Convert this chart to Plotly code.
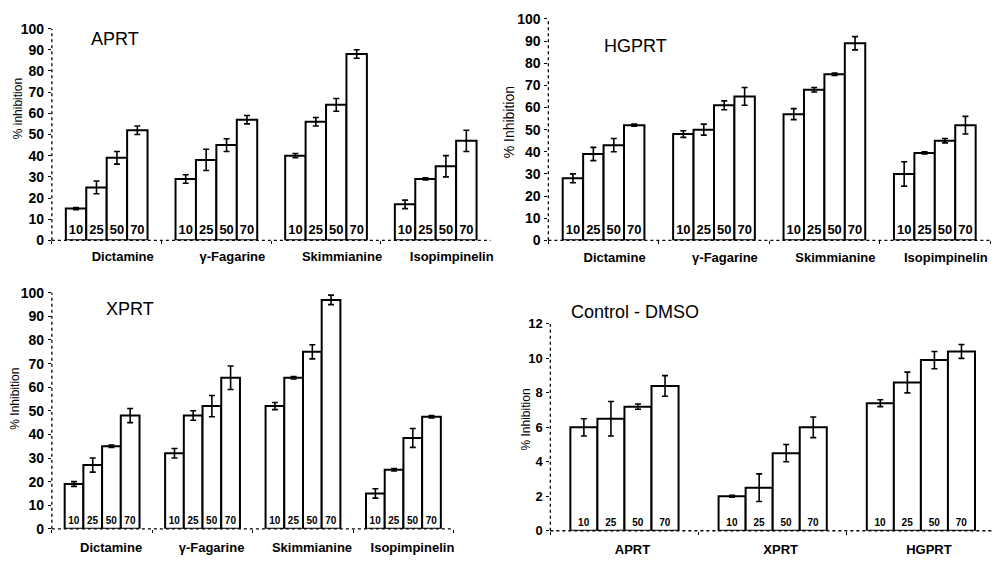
import plotly.graph_objects as go

# ---------------- data ----------------
compounds = ["Dictamine", "γ-Fagarine", "Skimmianine", "Isopimpinelin"]
enzymes = ["APRT", "XPRT", "HGPRT"]
conc_labels = ["10", "25", "50", "70"]

aprt_vals = [[15, 29, 40, 17], [25, 38, 56, 29], [39, 45, 64, 35], [52, 57, 88, 47]]
aprt_errs = [[0.5, 2, 1, 2], [3, 5, 2, 0.5], [3, 3, 3, 5], [2, 2, 2, 5]]

hgprt_vals = [[28, 48, 57, 30], [39, 50, 68, 39.5], [43, 61, 75, 45], [52, 65, 89, 52]]
hgprt_errs = [[2, 1.5, 2.5, 5.5], [3, 2.5, 1, 0.5], [3, 2, 0.5, 1], [0.5, 4, 3, 4]]

xprt_vals = [[19, 32, 52, 15], [27, 48, 64, 25], [35, 52, 75, 38.5], [48, 64, 97, 47.5]]
xprt_errs = [[1, 2, 1.5, 2], [3, 2, 0.5, 0.5], [0.5, 4.5, 3, 4], [3, 5, 2, 0.5]]

ctrl_vals = [[6.0, 2.0, 7.4], [6.5, 2.5, 8.6], [7.2, 4.5, 9.9], [8.4, 6.0, 10.4]]
ctrl_errs = [[0.5, 0.05, 0.2], [1.0, 0.8, 0.6], [0.15, 0.5, 0.5], [0.6, 0.6, 0.4]]

panel_titles = ["APRT", "HGPRT", "XPRT", "Control - DMSO"]
ytitles = ["% inhibition", "% Inhibition", "% Inhibition", "% Inhibition"]

# ---------------- layout geometry ----------------
# the page body has an 8px margin, so the figure is offset by 8px
OFF = 8
W, H = 992, 556
FONT = "Arial, Liberation Sans, sans-serif"

panels = [
    dict(cats=compounds, vals=aprt_vals, errs=aprt_errs, px=(52, 492), py=(21, 239),
         yr=(0, 100), dt=10, gw=0.745, tfs=13, yfs=14, xfs=13, shift=16, stand=7,
         title_xy=(115, 32), ytl_xy=(18, 103), ytl_fs=12),
    dict(cats=compounds, vals=hgprt_vals, errs=hgprt_errs, px=(550, 993), py=(11, 239),
         yr=(0, 100), dt=10, gw=0.74, tfs=13, yfs=14, xfs=13, shift=11, stand=8,
         title_xy=(637, 39), ytl_xy=(510, 117), ytl_fs=14),
    dict(cats=compounds, vals=xprt_vals, errs=xprt_errs, px=(52, 455), py=(293, 536),
         yr=(0, 100), dt=10, gw=0.745, tfs=10, yfs=14, xfs=13, shift=9, stand=9,
         title_xy=(130, 310), ytl_xy=(15, 402), ytl_fs=12),
    dict(cats=enzymes, vals=ctrl_vals, errs=ctrl_errs, px=(552, 998), py=(325, 538),
         yr=(0, 12), dt=2, gw=0.73, tfs=10, yfs=13, xfs=13, shift=8, stand=9,
         title_xy=(637, 313), ytl_xy=(528, 423), ytl_fs=12),
]


def fx(px):
    return (px - OFF) / W


def fy(py):
    return 1 - (py - OFF) / H


fig = go.Figure()
layout = dict(
    width=W, height=H, margin=dict(l=0, r=0, t=0, b=0), autosize=False,
    paper_bgcolor="white", plot_bgcolor="white", showlegend=False,
    barmode="overlay", font=dict(family=FONT, color="black"),
)
annotations = []
shapes = []

for pi, p in enumerate(panels):
    n = pi + 1
    xa = "x" if n == 1 else f"x{n}"
    ya = "y" if n == 1 else f"y{n}"
    bw = p["gw"] / 4
    for ci, lab in enumerate(conc_labels):
        fig.add_trace(go.Bar(
            x=p["cats"], y=p["vals"][ci], xaxis=xa, yaxis=ya,
            width=bw, offset=-p["gw"] / 2 + ci * bw,
            marker=dict(color="white", line=dict(color="black", width=2)),
            error_y=dict(type="data", array=p["errs"][ci], color="black", thickness=1.6, width=3),
            text=[lab] * len(p["cats"]), textposition="inside", insidetextanchor="start",
            textangle=0, textfont=dict(family=FONT, size=p["tfs"], color="black", weight="bold"),
            cliponaxis=False, hoverinfo="skip",
        ))
    xkey = "xaxis" if n == 1 else f"xaxis{n}"
    ykey = "yaxis" if n == 1 else f"yaxis{n}"
    x0, x1 = fx(p["px"][0]), fx(p["px"][1])
    y0, y1 = fy(p["py"][1]), fy(p["py"][0])
    layout[xkey] = dict(
        domain=[x0, x1], anchor=ya,
        type="category", range=[-0.5, len(p["cats"]) - 0.5],
        showline=False, ticks="outside", ticklen=3, tickson="boundaries",
        tickcolor="black", showgrid=False, zeroline=False,
        ticklabelstandoff=p["stand"], ticklabelshift=p["shift"],
        tickfont=dict(family=FONT, size=p["xfs"], color="black", weight="bold"),
        fixedrange=True,
    )
    layout[ykey] = dict(
        domain=[y0, y1], anchor=xa,
        range=list(p["yr"]), dtick=p["dt"], tick0=0,
        showline=False, ticks="outside", ticklen=3,
        tickcolor="black", showgrid=False, zeroline=False,
        tickfont=dict(family=FONT, size=p["yfs"], color="black", weight="bold"),
        ticklabelstandoff=1, fixedrange=True,
    )
    # dotted axis lines, as in the scanned original
    shapes.append(dict(type="line", xref="paper", yref="paper", x0=x0, x1=x1, y0=y0, y1=y0,
                       line=dict(color="black", width=1.3, dash="dot")))
    shapes.append(dict(type="line", xref="paper", yref="paper", x0=x0, x1=x0, y0=y0, y1=y1,
                       line=dict(color="black", width=1.3, dash="dot")))
    annotations.append(dict(
        text=panel_titles[pi], x=fx(p["title_xy"][0]), y=fy(p["title_xy"][1]),
        xref="paper", yref="paper", showarrow=False, xanchor="center", yanchor="middle",
        font=dict(family=FONT, size=18, color="black"),
    ))
    annotations.append(dict(
        text=ytitles[pi], x=fx(p["ytl_xy"][0]), y=fy(p["ytl_xy"][1]),
        xref="paper", yref="paper", showarrow=False, xanchor="center", yanchor="middle",
        textangle=-90, font=dict(family=FONT, size=p["ytl_fs"], color="black"),
    ))

layout["annotations"] = annotations
layout["shapes"] = shapes
fig.update_layout(**layout)
fig.write_html("out.html")
